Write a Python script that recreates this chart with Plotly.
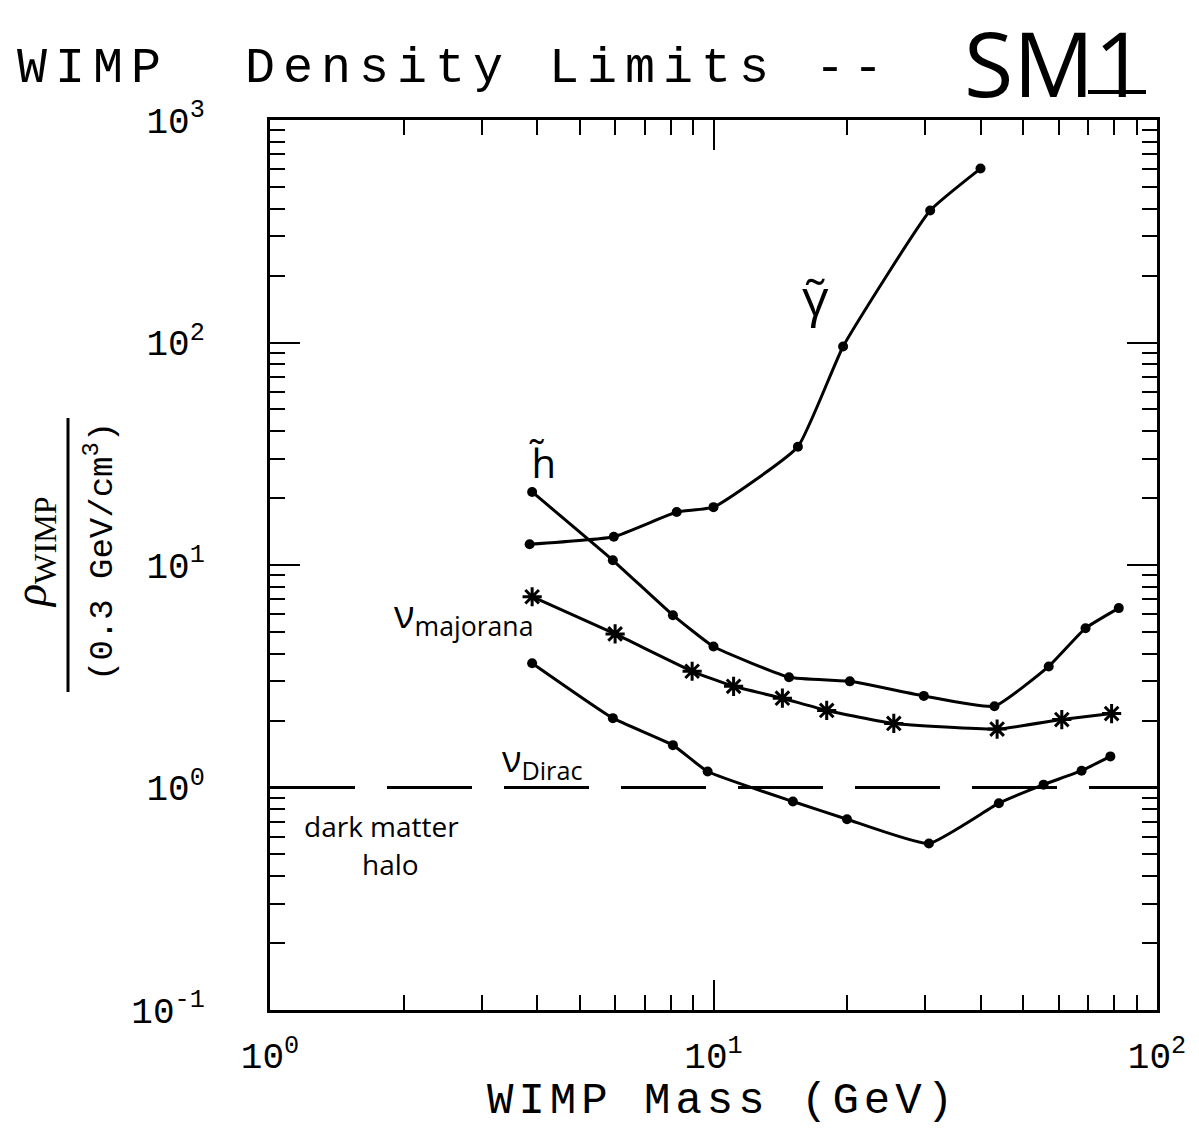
import plotly.graph_objects as go

# ---- data ----
photino_mass = [3.85, 5.96, 8.26, 10.0, 15.5, 19.6, 30.8, 40.0]
photino_rho = [12.4, 13.4, 17.3, 18.2, 34.0, 96.0, 392.0, 605.0]

higgsino_mass = [3.9, 5.93, 8.1, 10.0, 14.8, 20.3, 29.8, 43.0, 57.0, 69.0, 82.0]
higgsino_rho = [21.3, 10.5, 5.95, 4.3, 3.13, 3.0, 2.58, 2.32, 3.5, 5.2, 6.4]

majorana_mass = [3.9, 6.0, 8.95, 11.1, 14.3, 18.0, 25.5, 43.6, 61.0, 79.0]
majorana_rho = [7.2, 4.9, 3.33, 2.85, 2.52, 2.22, 1.94, 1.83, 2.02, 2.15]

dirac_mass = [3.9, 5.93, 8.1, 9.7, 15.1, 20.0, 30.6, 44.0, 55.5, 67.6, 78.5]
dirac_rho = [3.62, 2.05, 1.55, 1.18, 0.865, 0.72, 0.56, 0.85, 1.03, 1.19, 1.38]

halo_mass = [1.0, 100.0]
halo_rho = [1.0, 1.0]

x_major = [1, 10, 100]
x_major_text = ["10<sup>0</sup>", "10<sup>1</sup>", "10<sup>2</sup>"]
x_minor = [2, 3, 4, 5, 6, 7, 8, 9, 20, 30, 40, 50, 60, 70, 80, 90]
y_major = [0.1, 1, 10, 100, 1000]
y_major_text = ["10<sup>-1</sup>", "10<sup>0</sup>", "10<sup>1</sup>", "10<sup>2</sup>", "10<sup>3</sup>"]
y_minor = [0.2, 0.3, 0.4, 0.5, 0.6, 0.7, 0.8, 0.9,
           2, 3, 4, 5, 6, 7, 8, 9,
           20, 30, 40, 50, 60, 70, 80, 90,
           200, 300, 400, 500, 600, 700, 800, 900]

# ---- layout geometry ----
W, H = 1199, 1130
L, R, T, B = 270, 1157, 120, 1010


def px(x):
    return (x - L) / (R - L)


def py(y):
    return (B - y) / (B - T)


MONO = "Liberation Mono"
SERIF = "Liberation Serif"
HAND = "Open Sans"

fig = go.Figure()

fig.add_trace(go.Scatter(x=halo_mass, y=halo_rho, mode="lines",
                         line=dict(color="black", width=3, dash="85px,32px"),
                         showlegend=False, hoverinfo="skip"))
for xs, ys in [(photino_mass, photino_rho), (higgsino_mass, higgsino_rho),
               (dirac_mass, dirac_rho)]:
    fig.add_trace(go.Scatter(x=xs, y=ys, mode="lines+markers",
                             line=dict(color="black", width=3, shape="spline", smoothing=0.4),
                             marker=dict(symbol="circle", size=10, color="black"),
                             showlegend=False, hoverinfo="skip"))
fig.add_trace(go.Scatter(x=majorana_mass, y=majorana_rho, mode="lines+markers",
                         line=dict(color="black", width=3, shape="spline", smoothing=0.4),
                         marker=dict(symbol="asterisk-open", size=16,
                                     line=dict(color="black", width=3)),
                         showlegend=False, hoverinfo="skip"))

axis_common = dict(
    type="log", showgrid=False, zeroline=False,
    showline=True, linecolor="black", linewidth=3, mirror="allticks",
    ticks="inside", ticklen=30, tickwidth=2, tickcolor="black",
    tickfont=dict(family=MONO, size=36, color="black"),
)

fig.update_xaxes(**axis_common, range=[0, 2], ticklabelstandoff=12,
                 tickmode="array", tickvals=x_major, ticktext=x_major_text,
                 minor=dict(tickvals=x_minor, ticks="inside", ticklen=15,
                            tickwidth=2, tickcolor="black"))
fig.update_yaxes(**axis_common, range=[-1, 3], ticklabelstandoff=55,
                 tickmode="array", tickvals=y_major, ticktext=y_major_text,
                 minor=dict(tickvals=y_minor, ticks="inside", ticklen=15,
                            tickwidth=2, tickcolor="black"))

ann = []
# Title
ann.append(dict(text="<span style='letter-spacing:8px'>WIMP\u00a0\u00a0Density Limits\u00a0--</span>",
                x=px(15), y=py(68), xref="paper", yref="paper",
                xanchor="left", yanchor="middle", showarrow=False,
                font=dict(family=MONO, size=50, color="black")))
ann.append(dict(text="SM1", x=px(1055), y=py(62), xref="paper", yref="paper",
                xanchor="center", yanchor="middle", showarrow=False,
                font=dict(family=HAND, size=90, color="black")))
# x-axis title
ann.append(dict(text="<span style='letter-spacing:5px'>WIMP Mass (GeV)</span>",
                x=px(485), y=py(1101), xref="paper", yref="paper",
                xanchor="left", yanchor="middle", showarrow=False,
                font=dict(family=MONO, size=44, color="black")))
# y-axis fraction title
ann.append(dict(text="<i>ρ</i><sub>WIMP</sub>", x=px(34), y=py(552), xref="paper", yref="paper",
                xanchor="center", yanchor="middle", showarrow=False, textangle=-90,
                font=dict(family=SERIF, size=46, color="black")))
ann.append(dict(text="(0.3 GeV/cm<sup>3</sup>)", x=px(100), y=py(552), xref="paper", yref="paper",
                xanchor="center", yanchor="middle", showarrow=False, textangle=-90,
                font=dict(family=MONO, size=34, color="black")))
# handwritten curve labels
ann.append(dict(text="γ\u0303", x=px(815), y=py(295), xref="paper", yref="paper",
                xanchor="center", yanchor="middle", showarrow=False,
                font=dict(family=HAND, size=52, color="black")))
ann.append(dict(text="h\u0303", x=px(542), y=py(462), xref="paper", yref="paper",
                xanchor="center", yanchor="middle", showarrow=False,
                font=dict(family=HAND, size=40, color="black")))
ann.append(dict(text="ν<sub>majorana</sub>", x=px(392), y=py(615), xref="paper", yref="paper",
                xanchor="left", yanchor="middle", showarrow=False,
                font=dict(family=HAND, size=38, color="black")))
ann.append(dict(text="ν<sub>Dirac</sub>", x=px(500), y=py(760), xref="paper", yref="paper",
                xanchor="left", yanchor="middle", showarrow=False,
                font=dict(family=HAND, size=36, color="black")))
ann.append(dict(text="dark matter", x=px(302), y=py(826), xref="paper", yref="paper",
                xanchor="left", yanchor="middle", showarrow=False,
                font=dict(family=HAND, size=28, color="black")))
ann.append(dict(text="halo", x=px(360), y=py(864), xref="paper", yref="paper",
                xanchor="left", yanchor="middle", showarrow=False,
                font=dict(family=HAND, size=28, color="black")))

shapes = [
    dict(type="line", xref="paper", yref="paper",
         x0=px(68), x1=px(68), y0=py(418), y1=py(692),
         line=dict(color="black", width=3)),
    dict(type="line", xref="paper", yref="paper",
         x0=px(1088), x1=px(1146), y0=py(92), y1=py(92),
         line=dict(color="black", width=4)),
]

fig.update_layout(
    width=W, height=H,
    margin=dict(l=L, r=W - R, t=T, b=H - B),
    paper_bgcolor="white", plot_bgcolor="white",
    annotations=ann, shapes=shapes,
    hovermode=False,
)

fig.write_html("out.html")
